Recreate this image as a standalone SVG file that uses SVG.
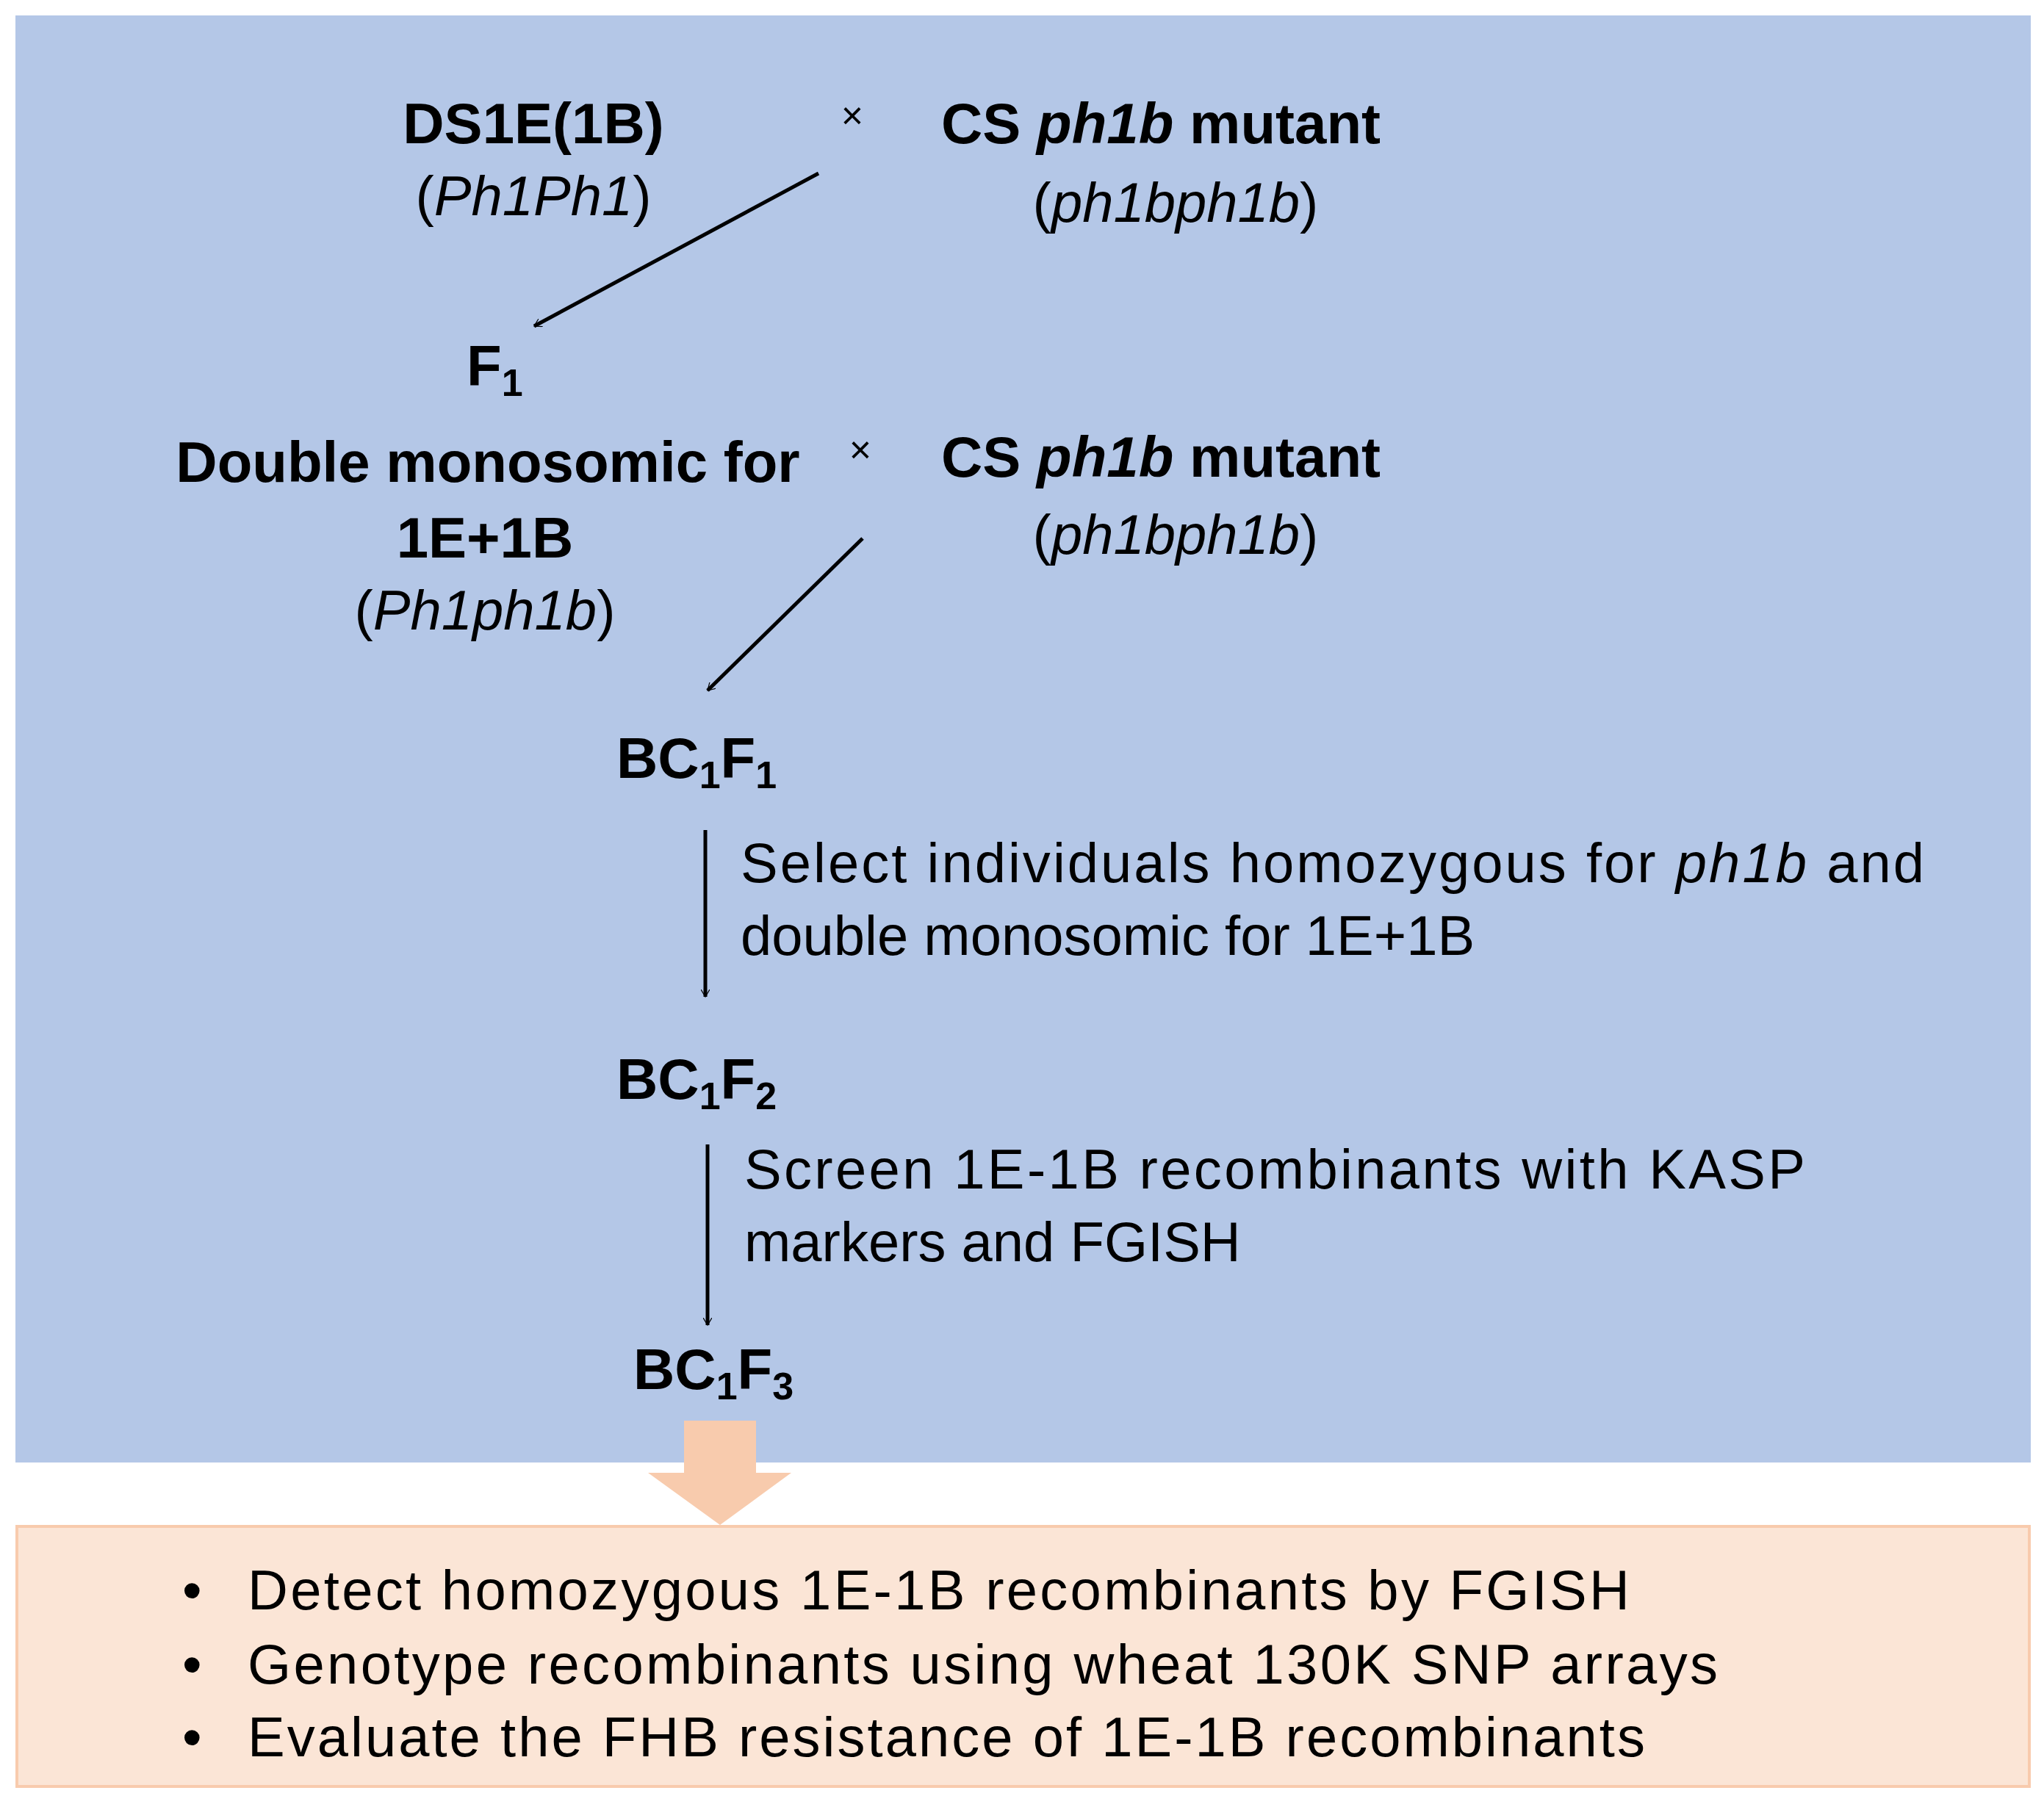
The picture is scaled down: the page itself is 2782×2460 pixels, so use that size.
<svg xmlns="http://www.w3.org/2000/svg" width="2782" height="2460" viewBox="0 0 2782 2460">
<defs>
<style>
text{font-family:"Liberation Sans",Arial,sans-serif;fill:#000}
.b{font-weight:bold;font-size:78px}
.n{font-size:76px}
.s{font-size:52px}
.x{font-size:52px}
.c{stroke:#000;stroke-width:5;fill:none}
</style>
<marker id="ah" markerWidth="12" markerHeight="12" refX="10" refY="6" orient="auto" markerUnits="userSpaceOnUse" viewBox="0 0 12 12">
<path d="M0,0 L10,6 L0,12" fill="none" stroke="#000" stroke-width="1.2"/>
</marker>
</defs>
<rect width="2782" height="2460" fill="#fff"/>
<g id="bg"><rect x="21" y="21" width="2743" height="1970" fill="#B4C7E7"/></g>
<g id="cross1">
<text class="b" x="726" y="195" text-anchor="middle">DS1E(1B)</text>
<text class="n" x="726" y="293" text-anchor="middle">(<tspan font-style="italic">Ph1Ph1</tspan>)</text>
<text class="x" x="1160" y="175" text-anchor="middle">×</text>
<text class="b" x="1281" y="195">CS <tspan font-style="italic">ph1b</tspan> mutant</text>
<text class="n" x="1600" y="302" text-anchor="middle">(<tspan font-style="italic">ph1bph1b</tspan>)</text>
</g>
<g id="f1"><text class="b" x="635" y="525">F<tspan class="s" dy="14">1</tspan></text>
<text class="b" x="664" y="656" text-anchor="middle">Double monosomic for</text>
<text class="b" x="660" y="759" text-anchor="middle">1E+1B</text>
<text class="n" x="660" y="857" text-anchor="middle">(<tspan font-style="italic">Ph1ph1b</tspan>)</text>
</g>
<g id="cross2">
<text class="x" x="1171" y="630" text-anchor="middle">×</text>
<text class="b" x="1281" y="649">CS <tspan font-style="italic">ph1b</tspan> mutant</text>
<text class="n" x="1600" y="754" text-anchor="middle">(<tspan font-style="italic">ph1bph1b</tspan>)</text>
</g>
<g id="bc1f1"><text class="b" x="839" y="1059">BC<tspan class="s" dy="14">1</tspan><tspan dy="-14">F</tspan><tspan class="s" dy="14">1</tspan></text></g>
<g id="bc1f2"><text class="b" x="839" y="1496">BC<tspan class="s" dy="14">1</tspan><tspan dy="-14">F</tspan><tspan class="s" dy="14">2</tspan></text></g>
<g id="bc1f3"><text class="b" x="862" y="1891">BC<tspan class="s" dy="14">1</tspan><tspan dy="-14">F</tspan><tspan class="s" dy="14">3</tspan></text></g>
<g id="labels">
<text class="n" x="1008" y="1201" textLength="1611">Select individuals  homozygous  for <tspan font-style="italic">ph1b</tspan> and</text>
<text class="n" x="1008" y="1300">double  monosomic  for  1E+1B</text>
<text class="n" x="1013" y="1618" textLength="1444">Screen 1E-1B recombinants with KASP</text>
<text class="n" x="1013" y="1717">markers and FGISH</text>
</g>
<g id="connectors">
<line class="c" x1="1114" y1="236" x2="727" y2="444" marker-end="url(#ah)"/>
<line class="c" x1="1174" y1="733" x2="963" y2="940" marker-end="url(#ah)"/>
<line class="c" x1="960" y1="1130" x2="960" y2="1357" marker-end="url(#ah)"/>
<line class="c" x1="963" y1="1558" x2="963" y2="1804" marker-end="url(#ah)"/>
<path d="M931,1934 H1029 V2005 H1077 L980,2076 L882,2005 H931 Z" fill="#F8CBAD"/>
</g>
<g id="result">
<rect x="23" y="2078" width="2739" height="354" fill="#FBE5D6" stroke="#F8CBAD" stroke-width="4"/>
<text class="n" x="248" y="2191">•</text><text class="n" x="337" y="2191" textLength="1881">Detect homozygous  1E-1B recombinants by  FGISH</text>
<text class="n" x="248" y="2292">•</text><text class="n" x="337" y="2292" textLength="2001">Genotype recombinants using wheat 130K SNP arrays</text>
<text class="n" x="248" y="2391">•</text><text class="n" x="337" y="2391" textLength="1902">Evaluate the FHB resistance of 1E-1B recombinants</text>
</g>
</svg>
